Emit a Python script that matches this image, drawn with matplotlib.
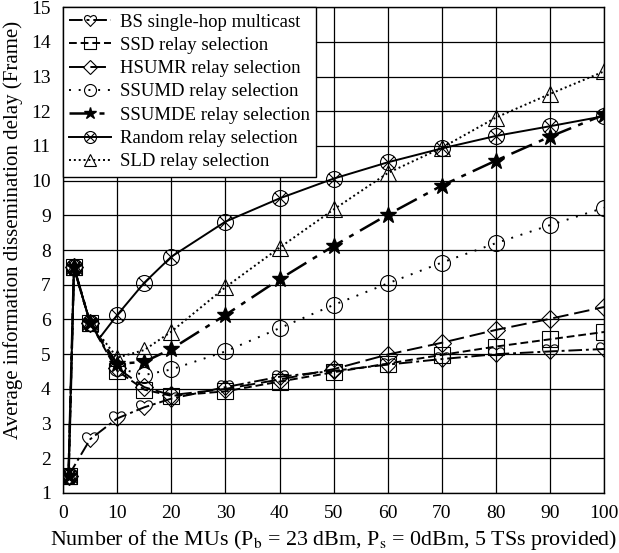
import numpy as np
import matplotlib
matplotlib.use("Agg")
import matplotlib.pyplot as plt
from matplotlib.path import Path

plt.rcParams['font.family'] = ['Liberation Serif', 'DejaVu Serif']
plt.rcParams['mathtext.fontset'] = 'stix'

# ---- data ----
x_bs = [1, 5, 10, 15, 20, 30, 40, 50, 60, 70, 80, 90, 100]
y_bs = [1.5, 2.55, 3.15, 3.47, 3.72, 4.05, 4.35, 4.52, 4.70, 4.86, 5.00, 5.08, 5.15]

x_all = [1, 2, 5, 10, 15, 20, 30, 40, 50, 60, 70, 80, 90, 100]
y_ssd = [1.5, 7.5, 5.9, 4.52, 3.98, 3.80, 3.93, 4.21, 4.48, 4.73, 4.98, 5.22, 5.43, 5.64]
y_hsumr = [1.5, 7.5, 5.9, 4.6, 4.05, 3.82, 4.0, 4.27, 4.57, 4.99, 5.33, 5.70, 6.02, 6.36]
y_ssumd = [1.5, 7.5, 5.9, 4.6, 4.40, 4.56, 5.08, 5.75, 6.42, 7.04, 7.64, 8.20, 8.72, 9.22]
y_ssumde = [1.5, 7.5, 5.9, 4.72, 4.78, 5.15, 6.13, 7.16, 8.12, 9.02, 9.86, 10.58, 11.27, 11.90]
x_rand = [1, 2, 5, 6.7, 10, 15, 20, 30, 40, 50, 60, 70, 80, 90, 100]
y_rand = [1.5, 7.5, 5.9, 5.46, 6.13, 7.06, 7.81, 8.82, 9.49, 10.06, 10.53, 10.93, 11.29, 11.57, 11.86]
y_sld = [1.5, 7.5, 5.9, 4.9, 5.12, 5.65, 6.93, 8.07, 9.17, 10.22, 10.95, 11.82, 12.50, 13.15]

labels = ["BS single-hop multicast", "SSD relay selection", "HSUMR relay selection",
          "SSUMD relay selection", "SSUMDE relay selection", "Random relay selection",
          "SLD relay selection"]

xticks = list(range(0, 101, 10))
yticks = list(range(1, 16))

# circle with cross marker
circ = Path.unit_circle()
s = np.sqrt(0.5)
xp = Path([(-s, -s), (s, s), (-s, s), (s, -s)], [Path.MOVETO, Path.LINETO, Path.MOVETO, Path.LINETO])
otimes = Path.make_compound_path(circ, xp)

# heart outline marker
heart = Path([(0, -1),
              (-0.3, -0.6), (-1, -0.2), (-1, 0.35),
              (-1, 0.85), (-0.4, 1.05), (0, 0.55),
              (0.4, 1.05), (1, 0.85), (1, 0.35),
              (1, -0.2), (0.3, -0.6), (0, -1),
              (0, -1)],
             [Path.MOVETO,
              Path.CURVE4, Path.CURVE4, Path.CURVE4,
              Path.CURVE4, Path.CURVE4, Path.CURVE4,
              Path.CURVE4, Path.CURVE4, Path.CURVE4,
              Path.CURVE4, Path.CURVE4, Path.CURVE4,
              Path.CLOSEPOLY])

fig = plt.figure(figsize=(6.19, 5.53), dpi=100)
ax = fig.add_axes([0.102, 0.1085, 0.874, 0.8785])

lw = 1.4
ms = 11.5
common = dict(color='black', markerfacecolor='none', markeredgecolor='black', markeredgewidth=0.8)

ax.plot(x_bs, y_bs, linestyle=(0, (7, 2, 1.5, 2)), lw=lw, marker=heart, markersize=12, label=labels[0], **common)
ax.plot(x_all, y_ssd, linestyle=(0, (4, 2)), lw=lw, marker='s', markersize=ms, label=labels[1], **common)
ax.plot(x_all, y_hsumr, linestyle=(0, (8, 3)), lw=lw, marker='D', markersize=9, label=labels[2], **common)
ax.plot(x_all, y_ssumd, linestyle=(0, (1, 4)), lw=lw, marker='o', markersize=ms, label=labels[3], **common)
ax.plot(x_all, y_ssumde, linestyle=(0, (9, 3, 2, 3)), lw=1.8, marker='*', markersize=12,
        color='black', markerfacecolor='black', markeredgecolor='black', label=labels[4])
ax.plot(x_rand, y_rand, linestyle='-', lw=lw, marker=otimes, markersize=ms,
        markevery=[i for i in range(len(x_rand)) if i != 3], label=labels[5], **common)
ax.plot(x_all, y_sld, linestyle=(0, (1, 1.5)), lw=lw, marker='^', markersize=ms, label=labels[6], **common)

ax.set_xlim(0, 100)
ax.set_ylim(1, 15)
ax.set_xticks(xticks)
ax.set_yticks(yticks)
ax.grid(True, color='black', linewidth=0.9)
ax.tick_params(direction='in', length=0, labelsize=14)
ax.tick_params(axis='x', pad=9)
ax.tick_params(axis='y', pad=9)
for sp in ax.spines.values():
    sp.set_linewidth(1.0)

ax.set_xlabel(r'Number of the MUs (P$_\mathrm{b}$ = 23 dBm, P$_\mathrm{s}$ = 0dBm, 5 TSs provided)', fontsize=15.8, labelpad=4)
ax.set_ylabel('Average information dissemination delay (Frame)', fontsize=15)
ax.yaxis.set_label_coords(-0.075, 0.541)

leg = ax.legend(loc='upper left', fontsize=13.5, frameon=True, fancybox=False, edgecolor='black',
                framealpha=1, borderaxespad=0, handlelength=2.2, handletextpad=0.5,
                labelspacing=0.33, borderpad=0.33, markerscale=0.75)
leg.get_frame().set_linewidth(1.0)

fig.savefig('out.png', dpi=100)
